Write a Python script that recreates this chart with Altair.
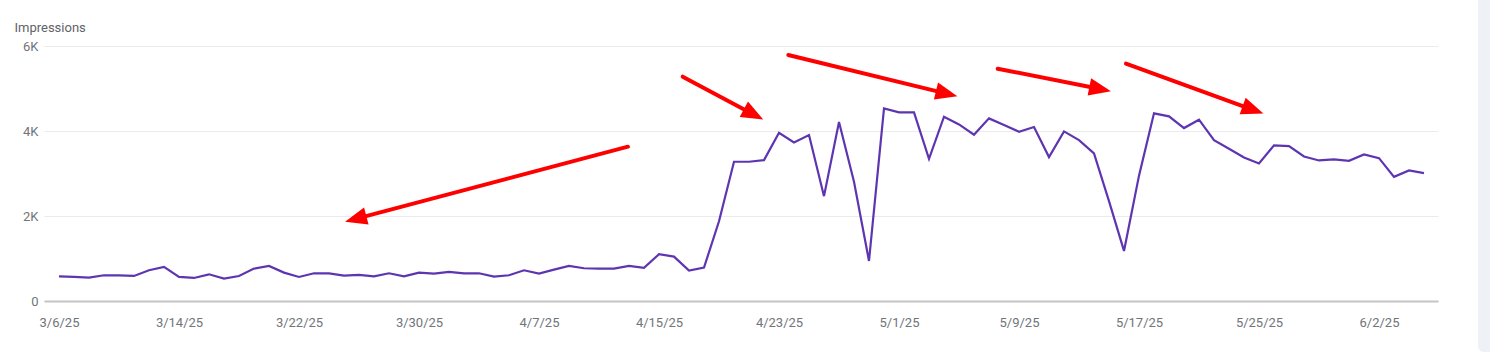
import altair as alt
import pandas as pd
import math

# ---- data ----
start = "2025-03-06"
impressions = [
    581, 566, 550, 605, 605, 589, 723, 801, 566, 542,
    628, 526, 589, 762, 825, 668, 566, 652, 652, 597,
    613, 581, 652, 581, 668, 644, 683, 652, 652, 573,
    605, 723, 644, 738, 825, 770, 762, 762, 825, 778,
    1100, 1045, 715, 786, 1877, 3276, 3276, 3315, 3959, 3731,
    3904, 2467, 4211, 2804, 943, 4533, 4438, 4438, 3346, 4336,
    4155, 3912, 4297, 4140, 3983, 4093, 3386, 3991, 3786, 3472,
    2350, 1178, 2950, 4415, 4344, 4069, 4266, 3786, 3582, 3378,
    3236, 3661, 3645, 3401, 3307, 3331, 3299, 3449, 3362, 2922,
    3071, 3009,
]
tick_dates = ["2025-03-06", "2025-03-14", "2025-03-22", "2025-03-30", "2025-04-07",
              "2025-04-15", "2025-04-23", "2025-05-01", "2025-05-09", "2025-05-17",
              "2025-05-25", "2025-06-02"]
y_ticks = [0, 2000, 4000, 6000]

# red annotation arrows: (tail day offset, tail value, tip day offset, tip value)
arrow_tail_day = [37.93, 41.58, 48.62, 62.58, 71.13]
arrow_tail_val = [3631, 5278, 5788, 5466, 5585]
arrow_tip_day = [19.07, 46.95, 59.89, 70.13, 80.29]
arrow_tip_val = [1866, 4269, 4819, 4937, 4411]

# ---- layout ----
W, H = 1394, 255
x_min = pd.Timestamp("2025-03-05")
x_max = pd.Timestamp("2025-06-06") - pd.Timedelta(hours=1.6)
y_max = 6000
px_per_day = W / ((x_max - x_min) / pd.Timedelta(days=1))
px_per_val = H / y_max

t0 = pd.Timestamp(start)
df = pd.DataFrame({
    "date": [t0 + pd.Timedelta(days=i) for i in range(len(impressions))],
    "value": impressions,
})

def to_ts(d):
    return t0 + pd.to_timedelta(d, unit="D")

seg_rows, head_rows = [], []
head_len = 22
for i in range(len(arrow_tail_day)):
    dx = (arrow_tip_day[i] - arrow_tail_day[i]) * px_per_day
    dy = -(arrow_tip_val[i] - arrow_tail_val[i]) * px_per_val
    L = math.hypot(dx, dy)
    ux, uy = dx / L, dy / L
    back = head_len / 2
    cday = arrow_tip_day[i] - back * ux / px_per_day
    cval = arrow_tip_val[i] + back * uy / px_per_val
    ang = math.degrees(math.atan2(dx, -dy)) % 360
    seg_rows.append({"id": i, "o": 0, "date": to_ts(arrow_tail_day[i]), "value": arrow_tail_val[i]})
    seg_rows.append({"id": i, "o": 1, "date": to_ts(cday), "value": cval})
    head_rows.append({"id": i, "date": to_ts(cday), "value": cval, "angle": ang})
seg_df = pd.DataFrame(seg_rows)
head_df = pd.DataFrame(head_rows)

x_scale = alt.Scale(domain=[x_min.isoformat(), x_max.isoformat()], nice=False)
y_scale = alt.Scale(domain=[0, y_max], nice=False)

font = "Roboto"
lab_col = "#70757a"

x_enc = alt.X("date:T", scale=x_scale, axis=alt.Axis(
    values=tick_dates, format="%-m/%-d/%y", title=None, grid=False,
    ticks=False, domain=True, domainColor="#c4c4c4", domainWidth=2,
    labelFont=font, labelFontSize=13, labelColor=lab_col, labelPadding=15,
))
y_enc = alt.Y("value:Q", scale=y_scale, axis=alt.Axis(
    values=y_ticks, labelExpr="datum.value == 0 ? '0' : (datum.value / 1000) + 'K'",
    title="Impressions", titleAngle=0, titleX=-30, titleY=-15, titleAlign="left",
    titleBaseline="alphabetic", titleFont=font, titleFontSize=13, titleFontWeight="normal",
    titleColor="#5f6368", domain=False, ticks=False, grid=True, gridColor="#ebebeb",
    gridWidth=1, labelFont=font, labelFontSize=13, labelColor=lab_col, labelPadding=6,
))

line = alt.Chart(df).mark_line(color="#5e35b1", strokeWidth=2.2).encode(x=x_enc, y=y_enc)

arrows = alt.Chart(seg_df).mark_line(color="#ff0000", strokeWidth=4, strokeCap="round").encode(
    x=alt.X("date:T", scale=x_scale), y=alt.Y("value:Q", scale=y_scale),
    detail="id:N", order="o:Q",
)
heads = alt.Chart(head_df).mark_point(
    shape="M-0.8,1L0,-1L0.8,1Z", size=484, filled=True, color="#ff0000", opacity=1,
).encode(
    x=alt.X("date:T", scale=x_scale), y=alt.Y("value:Q", scale=y_scale),
    angle=alt.Angle("angle:Q", scale=None),
)

panel = alt.Chart(pd.DataFrame({"k": [0]})).mark_rect(
    color="#eef1f6", cornerRadiusBottomLeft=6,
).encode(
    x=alt.value(W + 40), x2=alt.value(W + 52), y=alt.value(-46), y2=alt.value(306),
)

chart = alt.layer(panel, line, arrows, heads).properties(
    width=W, height=H,
    background="white",
    autosize=alt.AutoSizeParams(type="none"),
    padding={"left": 44, "top": 46, "right": 52, "bottom": 54},
).configure_view(strokeWidth=0, stroke="transparent")

chart.save("out.html", embed_options={"renderer": "svg", "actions": False})
